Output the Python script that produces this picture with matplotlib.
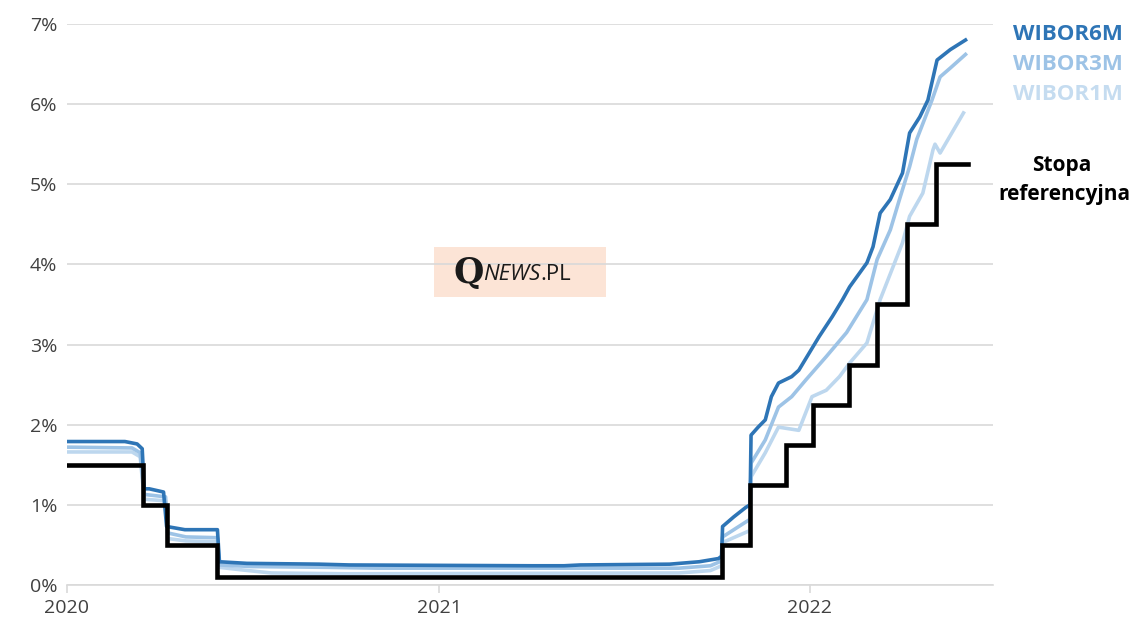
import numpy as np
import pandas as pd
import matplotlib
matplotlib.use("Agg")
import matplotlib.pyplot as plt
import matplotlib.dates as mdates
from matplotlib.patches import Rectangle

plt.rcParams['font.family'] = ['Open Sans', 'DejaVu Sans']

# WIBOR 6M
w6_dates = ["2020-01-02", "2020-02-27", "2020-03-10", "2020-03-15", "2020-03-17", "2020-03-22",
            "2020-04-05", "2020-04-08", "2020-04-26", "2020-05-28", "2020-05-30", "2020-06-26",
            "2020-09-05", "2020-10-05", "2021-04-02", "2021-05-04", "2021-05-20", "2021-08-16",
            "2021-09-14", "2021-10-03", "2021-10-06", "2021-10-07", "2021-10-18", "2021-10-30",
            "2021-11-03", "2021-11-04", "2021-11-11", "2021-11-18", "2021-11-24", "2021-12-01",
            "2021-12-14", "2021-12-21", "2022-01-10", "2022-01-23", "2022-02-02", "2022-02-09",
            "2022-02-26", "2022-03-04", "2022-03-11", "2022-03-21", "2022-04-02", "2022-04-09",
            "2022-04-19", "2022-04-27", "2022-05-06", "2022-05-19", "2022-06-03"]
w6_vals = [1.79, 1.79, 1.76, 1.70, 1.20, 1.20,
           1.16, 0.73, 0.69, 0.69, 0.29, 0.27,
           0.26, 0.25, 0.24, 0.24, 0.25, 0.26,
           0.29, 0.33, 0.36, 0.73, 0.85, 0.97,
           1.00, 1.87, 1.97, 2.06, 2.35, 2.52,
           2.60, 2.68, 3.10, 3.35, 3.56, 3.72,
           4.02, 4.22, 4.64, 4.81, 5.14, 5.64,
           5.84, 6.05, 6.55, 6.68, 6.80]

# WIBOR 3M
w3_dates = ["2020-01-02", "2020-03-05", "2020-03-13", "2020-03-17", "2020-04-07", "2020-04-09",
            "2020-04-27", "2020-05-28", "2020-05-30", "2020-07-01", "2020-09-15", "2020-11-01",
            "2021-08-25", "2021-09-25", "2021-10-06", "2021-10-07", "2021-11-03", "2021-11-04",
            "2021-11-18", "2021-12-01", "2021-12-14", "2021-12-28", "2022-01-17", "2022-02-06",
            "2022-02-26", "2022-03-08", "2022-03-21", "2022-03-30", "2022-04-09", "2022-04-16",
            "2022-05-01", "2022-05-09", "2022-05-19", "2022-06-03"]
w3_vals = [1.72, 1.71, 1.65, 1.13, 1.10, 0.65,
           0.60, 0.59, 0.25, 0.23, 0.22, 0.21,
           0.21, 0.24, 0.30, 0.60, 0.82, 1.52,
           1.81, 2.22, 2.35, 2.56, 2.85, 3.15,
           3.56, 4.06, 4.43, 4.81, 5.22, 5.56,
           6.05, 6.34, 6.45, 6.62]

# WIBOR 1M
w1_dates = ["2020-01-02", "2020-03-05", "2020-03-13", "2020-03-17", "2020-04-07", "2020-04-09",
            "2020-04-27", "2020-05-28", "2020-05-30", "2020-06-20", "2020-07-20", "2020-10-01",
            "2021-08-25", "2021-09-25", "2021-10-06", "2021-10-07", "2021-11-03", "2021-11-04",
            "2021-11-18", "2021-12-01", "2021-12-21", "2022-01-03", "2022-01-17", "2022-01-30",
            "2022-02-09", "2022-02-26", "2022-03-11", "2022-04-02", "2022-04-09", "2022-04-22",
            "2022-05-02", "2022-05-04", "2022-05-09", "2022-06-01"]
w1_vals = [1.66, 1.66, 1.60, 1.07, 1.05, 0.58,
           0.55, 0.54, 0.22, 0.19, 0.15, 0.14,
           0.15, 0.18, 0.24, 0.53, 0.68, 1.35,
           1.65, 1.97, 1.93, 2.35, 2.43, 2.60,
           2.77, 3.02, 3.56, 4.27, 4.60, 4.89,
           5.43, 5.50, 5.39, 5.89]

# Stopa referencyjna NBP
ref_dates = ["2020-01-01", "2020-03-16", "2020-04-08", "2020-05-28", "2021-10-06", "2021-11-03",
             "2021-12-08", "2022-01-04", "2022-02-08", "2022-03-08", "2022-04-06", "2022-05-05",
             "2022-06-05"]
ref_vals = [1.5, 1.0, 0.5, 0.1, 0.5, 1.25, 1.75, 2.25, 2.75, 3.5, 4.5, 5.25, 5.25]

c6, c3, c1 = '#2e75b6', '#9dc3e6', '#bdd7ee'
grid_c = '#d9d9d9'

fig = plt.figure(figsize=(11.47, 6.23), dpi=100)
ax = fig.add_axes([0.0584, 0.061, 0.8073, 0.9005])

ax.plot(pd.to_datetime(w1_dates), w1_vals, color=c1, lw=2.6, zorder=3)
ax.plot(pd.to_datetime(w3_dates), w3_vals, color=c3, lw=2.6, zorder=4)
ax.plot(pd.to_datetime(w6_dates), w6_vals, color=c6, lw=2.6, zorder=5)
ax.plot(pd.to_datetime(ref_dates), ref_vals, color='black', lw=3.3, drawstyle='steps-post',
        solid_joinstyle='miter', zorder=6)

ax.set_xlim(pd.Timestamp("2020-01-01"), pd.Timestamp("2022-06-30"))
ax.set_ylim(0, 7)
ax.set_yticks(range(0, 8))
ax.set_yticklabels([f"{i}%" for i in range(0, 8)])
ax.xaxis.set_major_locator(mdates.YearLocator())
ax.xaxis.set_major_formatter(mdates.DateFormatter('%Y'))

ax.grid(axis='y', color=grid_c, lw=1.2, zorder=0)
for s in ['left', 'right', 'top']:
    ax.spines[s].set_visible(False)
ax.spines['bottom'].set_color(grid_c)
ax.spines['bottom'].set_linewidth(1.2)
ax.tick_params(axis='y', length=0, labelsize=14, labelcolor='#404040', pad=7)
ax.tick_params(axis='x', length=6, color=grid_c, width=1.2, labelsize=14,
               labelcolor='#404040', pad=4)

# watermark
ax.add_patch(Rectangle((0.396, 0.513), 0.186, 0.0895, transform=ax.transAxes,
                       facecolor='#fce4d6', edgecolor='none', zorder=1))
ax.text(0.434, 0.556, "Q", transform=ax.transAxes, family='DejaVu Serif', fontsize=25,
        fontweight='bold', ha='center', va='center', color='#1a1a1a', zorder=2)
t = ax.text(0.449, 0.553, "NEWS", transform=ax.transAxes, fontsize=16, style='italic',
            ha='left', va='center', color='#1a1a1a', zorder=2)
ax.annotate(".PL", xy=(1.0, 0.5), xycoords=t, fontsize=16, ha='left', va='center',
            color='#1a1a1a', zorder=2)

# series labels on the right
fig.text(0.931, 0.944, "WIBOR6M", color=c6, fontsize=16, fontweight='bold', ha='center', va='center')
fig.text(0.931, 0.896, "WIBOR3M", color=c3, fontsize=16, fontweight='bold', ha='center', va='center')
fig.text(0.931, 0.848, "WIBOR1M", color='#c5dcf0', fontsize=16, fontweight='bold', ha='center', va='center')
fig.text(0.926, 0.735, "Stopa", color='black', fontsize=15, fontweight='bold', ha='center', va='center')
fig.text(0.928, 0.687, "referencyjna", color='black', fontsize=15, fontweight='bold', ha='center', va='center')

fig.savefig("out.png", dpi=100)
